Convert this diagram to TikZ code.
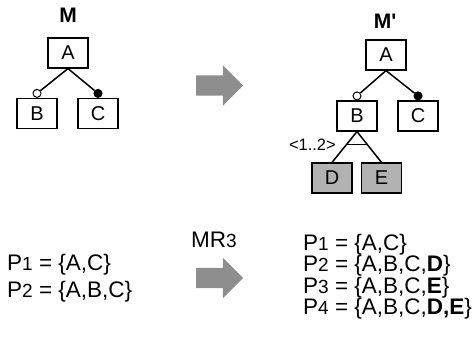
\documentclass[tikz,border=0pt]{standalone}
\usepackage{fontspec}
\setmainfont{Liberation Sans}
\usetikzlibrary{positioning,calc,shapes.arrows}
\definecolor{arrowgray}{RGB}{142,142,142}
\definecolor{featgray}{RGB}{178,178,178}
\newcommand{\idx}[1]{{\fontsize{19}{19}\selectfont #1}}

\begin{document}
\begin{tikzpicture}[x=1pt,y=-1pt,
  feat/.style={draw,line width=1.2pt,minimum width=40pt,minimum height=30pt,inner sep=0pt,font=\fontsize{20}{20}\selectfont},
  newfeat/.style={feat,fill=featgray},
  opt/.style={circle,draw,fill=white,line width=1pt,minimum size=8pt,inner sep=0pt},
  mand/.style={opt,fill=black},
  link/.style={line width=1.5pt},
  bigarrow/.style={single arrow,fill=arrowgray,minimum height=47pt,minimum width=40pt,single arrow head extend=10pt,inner xsep=0pt,inner ysep=10pt},
  title/.style={font=\fontsize{21}{21}\selectfont\bfseries},
  config/.style={anchor=base west,inner sep=0pt,font=\fontsize{22.5}{22.5}\selectfont}]
  \useasboundingbox (0,0) rectangle (472,337);

  % model M
  \node[title,anchor=base] (M) at (68,22.5) {M};
  \node[feat] (A) at (68,53) {A};
  \node[feat] (B) at (37,113.5) {B};
  \node[feat] (C) at (98,113.5) {C};
  \node[opt,above=0pt of B] (ob) {};
  \node[mand,above=0pt of C] (mc) {};
  \draw[link] (A.south) -- (ob);
  \draw[link] (A.south) -- (mc);

  % model M'
  \node[title,anchor=base] (M2) at (385,28.5) {M\textquotesingle};
  \node[feat] (A2) at (386,55) {A};
  \node[feat] (B2) at (357,116) {B};
  \node[feat] (C2) at (418,116) {C};
  \node[newfeat] (D) at (332,178) {D};
  \node[newfeat] (E) at (381.5,178) {E};
  \node[opt,above=0pt of B2] (ob2) {};
  \node[mand,above=0pt of C2] (mc2) {};
  \draw[link] (A2.south) -- (ob2);
  \draw[link] (A2.south) -- (mc2);
  \draw[link] (D.north) -- (B2.south) -- (E.north);
  \coordinate (gl) at ($(B2.south)!0.42!(D.north)$);
  \coordinate (gr) at ($(B2.south)!0.42!(E.north)$);
  \draw[link] (gl) -- (gr);
  \node[anchor=east,inner sep=0pt,font=\fontsize{16.5}{16.5}\selectfont] (card) at (336,145) {<1..2>};

  % transformation arrows
  \node[bigarrow] (t1) at (214.5,85.5) {};
  \node[bigarrow] (t2) at (214.5,278) {};
  \node[anchor=base,inner sep=0pt,font=\fontsize{22.5}{22.5}\selectfont] (mr) at (214,247) {MR\idx{3}};

  % products
  \node[config] (p1) at (7,270) {P\idx{1} = \{A,C\}};
  \node[config] (p2) at (7,297) {P\idx{2} = \{A,B,C\}};
  \node[config] (q1) at (303,250) {P\idx{1} = \{A,C\}};
  \node[config] (q2) at (303,271.5) {P\idx{2} = \{A,B,C,\textbf{D}\}};
  \node[config] (q3) at (303,293) {P\idx{3} = \{A,B,C,\textbf{E}\}};
  \node[config] (q4) at (303,314.5) {P\idx{4} = \{A,B,C,\textbf{D,E}\}};
\end{tikzpicture}
\end{document}
